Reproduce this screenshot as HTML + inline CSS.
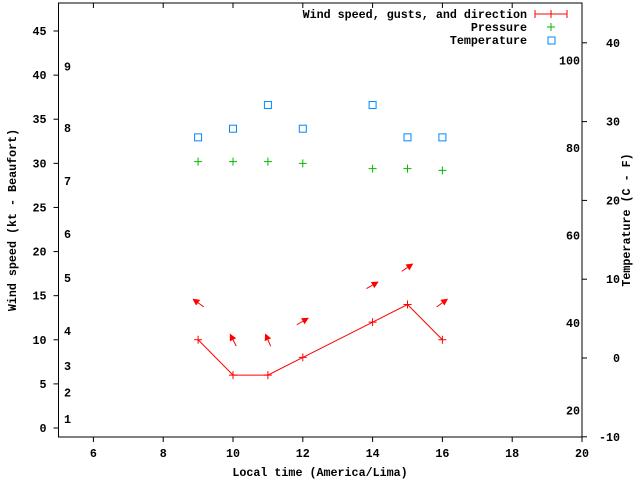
<!DOCTYPE html>
<html><head><meta charset="utf-8"><style>
html,body{margin:0;padding:0;background:#fff}
svg{display:block}
text{font-family:"Liberation Mono",monospace;font-weight:bold;font-size:11.7px;fill:#000}
</style></head><body>
<svg id="chart" width="640" height="480" viewBox="0 0 640 480">
<g id="axes"></g>
<g id="marks"></g>
<text x="16" y="220" transform="rotate(-90 16 220)" text-anchor="middle">Wind speed (kt - Beaufort)</text>
<text x="630" y="220" transform="rotate(-90 630 220)" text-anchor="middle">Temperature (C - F)</text>
<text x="320" y="476" text-anchor="middle">Local time (America/Lima)</text>
<g>
<text x="527" y="18" text-anchor="end">Wind speed, gusts, and direction</text>
<path d="M535 14H567M535 10V18M567 10V18M551 10V18" stroke="#f00" stroke-width="1" fill="none"/>
<text x="527" y="31" text-anchor="end">Pressure</text>
<path d="M547 27H555M551 23V31" stroke="#0b0" stroke-width="1"/>
<text x="527" y="44" text-anchor="end">Temperature</text>
<rect x="548" y="37" width="7" height="7" fill="none" stroke="#08f" stroke-width="1"/>
</g>
</svg>
<script>
const hours=[9,10,11,12,14,15,16];
const windKt=[10,6,6,8,12,14,10];
const gustKt=[14.2,10,10,12.1,16.2,18.2,14.2];
const windHeading=[144,117,113,30,30,34,36];
const pressure=[30.2,30.2,30.2,30.0,29.4,29.4,29.2];
const tempC=[28.0,29.1,32.1,29.1,32.1,28.0,28.0];
const xTicks=[6,8,10,12,14,16,18,20];
const yTicks=[0,5,10,15,20,25,30,35,40,45];
const y2Ticks=[-10,0,10,20,30,40];
const fLabels=[20,40,60,80,100];
const beaufortKt=[1,4,7,11,17,22,28,34,41];
const beaufortLabels=["1","2","3","4","5","6","7","8","9"];

const L=58.5,R=582,T=3,B=437;
const X=v=>L+(v-5)*(R-L)/15;
const Y=v=>428-v*8.822;
const Y2=c=>358-c*7.88;
const NS="http://www.w3.org/2000/svg";
function mk(tag,attrs,parent){const e=document.createElementNS(NS,tag);for(const k in attrs)e.setAttribute(k,attrs[k]);parent.appendChild(e);return e;}
const ax=document.getElementById('axes'),mg=document.getElementById('marks');

let border=mk('rect',{x:L,y:T,width:R-L,height:B-T,fill:'none',stroke:'#000','stroke-width':1},ax);


xTicks.forEach(v=>{
  let t=mk('path',{d:`M${X(v)} ${B}V${B+5}M${X(v)} ${T}V${T+5}`,stroke:'#000'},ax);
  
  
  let l=mk('text',{x:X(v),y:B+20,'text-anchor':'middle'},ax);l.textContent=v;
  
  
});
yTicks.forEach(v=>{
  let t=mk('path',{d:`M${L-5} ${Y(v)}H${L}`,stroke:'#000'},ax);
  
  
  let l=mk('text',{x:L-12,y:Y(v)+4,'text-anchor':'end'},ax);l.textContent=v;
  
  
});
y2Ticks.forEach(v=>{
  let t=mk('path',{d:`M${R} ${Y2(v)}H${R+5}`,stroke:'#000'},ax);
  
  
  let l=mk('text',{x:620,y:Y2(v)+4,'text-anchor':'end'},ax);l.textContent=v;
  
  
});
fLabels.forEach(f=>{
  let l=mk('text',{x:R-2,y:Y2((f-32)*5/9)+4,'text-anchor':'end'},ax);l.textContent=f;
  
  
});
beaufortKt.forEach((k,i)=>{
  let l=mk('text',{x:64,y:Y(k)+4},ax);l.textContent=beaufortLabels[i];
  
  
});

let pts=hours.map((h,i)=>X(h)+','+Y(windKt[i])).join(' ');
let line=mk('polyline',{points:pts,fill:'none',stroke:'#f00','stroke-width':1},mg);


hours.forEach((h,i)=>{
  const x=X(h),y=Y(windKt[i]);
  let p=mk('path',{d:`M${x-4} ${y}H${x+4}M${x} ${y-4}V${y+4}`,stroke:'#f00'},mg);
  
  
  // arrow
  const cx=X(h),cy=Y(gustKt[i]),a=windHeading[i]*Math.PI/180,len=14;
  const dx=Math.cos(a)*len/2,dy=-Math.sin(a)*len/2;
  const hx=cx+dx,hy=cy+dy,tx=cx-dx,ty=cy-dy;
  const ux=Math.cos(a),uy=-Math.sin(a);
  const bx=hx-ux*7,by=hy-uy*7;
  const px=-uy*3.5,py=ux*3.5;
  let g=mk('g',{},mg);
  
  
  mk('line',{x1:tx,y1:ty,x2:bx,y2:by,stroke:'#f00','stroke-width':1},g);
  mk('polygon',{points:`${hx},${hy} ${bx+px},${by+py} ${bx-px},${by-py}`,fill:'#f00'},g);
  // pressure
  const py2=Y(pressure[i]);
  let pr=mk('path',{d:`M${x-4} ${py2}H${x+4}M${x} ${py2-4}V${py2+4}`,stroke:'#0b0'},mg);
  
  
  // temperature
  let r=mk('rect',{x:x-3.5,y:Y2(tempC[i])-3.5,width:7,height:7,fill:'none',stroke:'#08f'},mg);
  
  
});
</script>
</body></html>
